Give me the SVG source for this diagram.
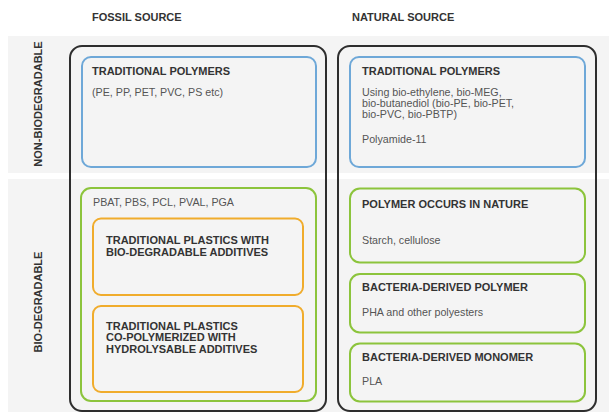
<svg xmlns="http://www.w3.org/2000/svg" width="609" height="412" viewBox="0 0 609 412">
  <style>
    .band { fill: #f4f4f4; }
    .outer { fill: none; stroke: #2e2e2e; stroke-width: 2; }
    .blue { fill: none; stroke: #6ea8d8; stroke-width: 2; }
    .green { fill: none; stroke: #8cc43c; stroke-width: 2; }
    .orange { fill: none; stroke: #f0ac2c; stroke-width: 2; }
    .head { font-family: "Liberation Sans", Arial, Helvetica, sans-serif; font-size: 11px; font-weight: bold; fill: #333333; }
    .body { font-family: "Liberation Sans", Arial, Helvetica, sans-serif; font-size: 10.7px; fill: #555555; }
  </style>

  <rect width="609" height="412" fill="#ffffff"/>

  <!-- row bands -->
  <rect class="band" x="8" y="36" width="601" height="137"/>
  <rect class="band" x="8" y="179" width="601" height="233"/>

  <!-- column headings -->
  <text class="head" x="92" y="21">FOSSIL SOURCE</text>
  <text class="head" x="352" y="21">NATURAL SOURCE</text>

  <!-- row headings -->
  <text class="head" transform="translate(42 104) rotate(-90)" text-anchor="middle">NON-BIODEGRADABLE</text>
  <text class="head" transform="translate(42 302) rotate(-90)" text-anchor="middle">BIO-DEGRADABLE</text>

  <!-- source columns -->
  <g id="fossil-column">
    <rect class="outer" x="70" y="46" width="256" height="365" rx="12"/>
  </g>
  <g id="natural-column">
    <rect class="outer" x="338" y="46" width="258" height="365" rx="12"/>
  </g>

  <g id="fossil-traditional">
    <rect class="blue" x="82" y="57" width="234" height="110" rx="9"/>
    <text class="head" x="92" y="75">TRADITIONAL POLYMERS</text>
    <text class="body" x="92" y="95.5">(PE, PP, PET, PVC, PS etc)</text>
  </g>

  <g id="natural-traditional">
    <rect class="blue" x="350" y="57" width="235" height="110" rx="9"/>
    <text class="head" x="362" y="75">TRADITIONAL POLYMERS</text>
    <text class="body" x="362" y="95.5">Using bio-ethylene, bio-MEG,</text>
    <text class="body" x="362" y="106.5">bio-butanediol (bio-PE, bio-PET,</text>
    <text class="body" x="362" y="117.5">bio-PVC, bio-PBTP)</text>
    <text class="body" x="362" y="143">Polyamide-11</text>
  </g>

  <g id="fossil-biodegradable">
    <rect class="green" x="81" y="188" width="235" height="213" rx="10"/>
    <text class="body" x="93" y="206">PBAT, PBS, PCL, PVAL, PGA</text>
  </g>

  <g id="additives">
    <rect class="orange" x="93" y="218.5" width="210" height="76.5" rx="8"/>
    <text class="head" x="106" y="244">TRADITIONAL PLASTICS WITH</text>
    <text class="head" x="106" y="255.5">BIO-DEGRADABLE ADDITIVES</text>
  </g>

  <g id="copolymerized">
    <rect class="orange" x="93" y="306" width="210" height="86" rx="8"/>
    <text class="head" x="106" y="329.5">TRADITIONAL PLASTICS</text>
    <text class="head" x="106" y="341">CO-POLYMERIZED WITH</text>
    <text class="head" x="106" y="352.5">HYDROLYSABLE ADDITIVES</text>
  </g>

  <g id="natural-polymer">
    <rect class="green" x="350" y="188.5" width="235" height="74" rx="10"/>
    <text class="head" x="362" y="207.5">POLYMER OCCURS IN NATURE</text>
    <text class="body" x="362" y="244">Starch, cellulose</text>
  </g>

  <g id="bacteria-polymer">
    <rect class="green" x="350" y="274" width="235" height="58.5" rx="10"/>
    <text class="head" x="362" y="290.5">BACTERIA-DERIVED POLYMER</text>
    <text class="body" x="362" y="315.5">PHA and other polyesters</text>
  </g>

  <g id="bacteria-monomer">
    <rect class="green" x="350" y="343.5" width="235" height="58" rx="10"/>
    <text class="head" x="362" y="360.5">BACTERIA-DERIVED MONOMER</text>
    <text class="body" x="362" y="385">PLA</text>
  </g>

  <g id="connectors"/>
</svg>
